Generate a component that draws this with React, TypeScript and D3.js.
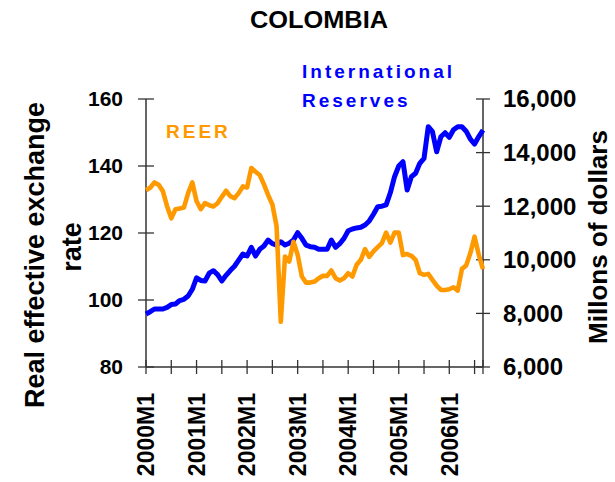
import React from "react";
import * as d3 from "d3";

const years = ["2000M1", "2001M1", "2002M1", "2003M1", "2004M1", "2005M1", "2006M1"];
const leftTicks = [80, 100, 120, 140, 160];
const rightTicks = [6000, 8000, 10000, 12000, 14000, 16000];

// Monthly, 2000M1 .. 2006M9
const reer = [
  132.8, 133.5, 135.1, 134.4, 132.5, 128.0, 124.4, 127.1, 127.3, 127.6,
  131.9, 135.1, 129.5, 127.1, 128.9, 128.3, 127.9, 128.9, 130.8, 132.6,
  131.0, 130.4, 131.9, 133.9, 133.6, 139.4, 138.3, 137.3, 134.5, 131.3,
  128.5, 122.0, 93.5, 113.0, 111.5, 117.4, 113.5, 107.0, 105.2, 105.2,
  105.5, 106.5, 107.2, 107.2, 108.8, 106.5, 105.8, 106.5, 108.0, 107.0,
  110.5, 112.0, 115.2, 112.9, 114.5, 115.8, 117.0, 120.1, 117.1, 120.1,
  120.1, 113.4, 113.7, 113.2, 112.0, 108.0, 107.5, 107.8, 106.0, 104.3,
  103.0, 103.0, 103.2, 103.8, 102.8, 109.3, 110.3, 114.0, 118.9, 113.5,
  109.2,
];

const reserves = [
  7977, 8063, 8164, 8164, 8164, 8227, 8330, 8351, 8480, 8526,
  8650, 8900, 9330, 9230, 9209, 9500, 9593, 9450, 9209, 9420,
  9600, 9760, 9990, 10216, 10141, 10466, 10141, 10391, 10514, 10738,
  10600, 10552, 10675, 10552, 10620, 10738, 11011, 10800, 10550, 10490,
  10466, 10391, 10391, 10391, 10738, 10466, 10600, 10800, 11085, 11150,
  11190, 11212, 11298, 11450, 11700, 11981, 12000, 12050, 12500, 13100,
  13500, 13660, 12604, 13100, 13227, 13600, 13787, 14966, 14779, 14033,
  14593, 14742, 14570, 14850, 14966, 14966, 14800, 14500, 14320, 14600,
  14842,
];

const FONT = "'Liberation Sans', Arial, Helvetica, sans-serif";

export default function App() {
  const W = 615;
  const H = 482;
  const left = 146;
  const right = 483;
  const top = 99;
  const bottom = 367;

  const x = d3.scaleLinear().domain([0, reer.length - 1]).range([left, right]);
  const yL = d3.scaleLinear().domain([80, 160]).range([bottom, top]);
  const yR = d3.scaleLinear().domain([6000, 16000]).range([bottom, top]);

  const reerLine = d3
    .line<number>()
    .x((_, i) => x(i))
    .y((d) => yL(d))(reer) as string;
  const resLine = d3
    .line<number>()
    .x((_, i) => x(i))
    .y((d) => yR(d))(reserves) as string;

  const xTicks = d3.range(0, reer.length, 6).concat([reer.length - 1]);
  const axisColor = "#333";

  return (
    <>
      <style>{`body{margin:0}`}</style>
      <svg width={W} height={H} style={{ display: "block", fontFamily: FONT }}>
        <rect width={W} height={H} fill="#fff" />
        {/* Title */}
        <text x={319} y={28} textAnchor="middle" fontSize={24} fontWeight="bold" fill="#000" textLength={138} lengthAdjust="spacingAndGlyphs">
          COLOMBIA
        </text>

        {/* Left axis */}
        <line x1={left} x2={left} y1={top} y2={bottom} stroke={axisColor} strokeWidth={1.5} />
        {leftTicks.map((t) => (
          <g key={"l" + t}>
            <line x1={left - 8} x2={left + 8} y1={yL(t)} y2={yL(t)} stroke={axisColor} strokeWidth={1.3} />
            <text x={123} y={yL(t)} dy="0.35em" textAnchor="end" fontSize={21} fontWeight="bold" fill="#000">
              {t}
            </text>
          </g>
        ))}

        {/* Right axis */}
        <line x1={right} x2={right} y1={top} y2={bottom} stroke={axisColor} strokeWidth={1.5} />
        {rightTicks.map((t) => (
          <g key={"r" + t}>
            <line x1={right - 7} x2={right + 7} y1={yR(t)} y2={yR(t)} stroke={axisColor} strokeWidth={1.3} />
            <text x={503} y={yR(t)} dy="0.35em" textAnchor="start" fontSize={24} fontWeight="bold" fill="#000">
              {d3.format(",")(t)}
            </text>
          </g>
        ))}

        {/* Bottom axis */}
        <line x1={left} x2={right} y1={bottom} y2={bottom} stroke={axisColor} strokeWidth={1.5} />
        {xTicks.map((i) => (
          <line key={"x" + i} x1={x(i)} x2={x(i)} y1={bottom - 7} y2={bottom + 7} stroke={axisColor} strokeWidth={1.3} />
        ))}
        {years.map((lab, k) => {
          const px = x(k * 12);
          return (
            <text
              key={lab}
              transform={`translate(${px},393) rotate(-90)`}
              dy="0.36em"
              textAnchor="end"
              fontSize={23}
              fontWeight="bold"
              fill="#000"
            >
              {lab}
            </text>
          );
        })}

        {/* Series */}
        <path d={resLine} fill="none" stroke="#0000ff" strokeWidth={5} strokeLinejoin="round" />
        <path d={reerLine} fill="none" stroke="#ff9900" strokeWidth={4.6} strokeLinejoin="round" />

        {/* Legends */}
        <text x={166} y={138} fontSize={19} fontWeight="bold" fill="#ff9900" letterSpacing={3}>
          REER
        </text>
        <text x={302} y={78} fontSize={19} fontWeight="bold" fill="#0000ff" letterSpacing={3}>
          International
        </text>
        <text x={302} y={107} fontSize={19} fontWeight="bold" fill="#0000ff" letterSpacing={3}>
          Reserves
        </text>

        {/* Axis titles */}
        <text transform="translate(35,255) rotate(-90)" dy="0.35em" textAnchor="middle" fontSize={27} fontWeight="bold" fill="#000">
          Real effective exchange
        </text>
        <text transform="translate(72,247) rotate(-90)" dy="0.35em" textAnchor="middle" fontSize={27} fontWeight="bold" fill="#000">
          rate
        </text>
        <text transform="translate(598,237) rotate(-90)" dy="0.35em" textAnchor="middle" fontSize={26} fontWeight="bold" fill="#000">
          Millons of dollars
        </text>
      </svg>
    </>
  );
}
